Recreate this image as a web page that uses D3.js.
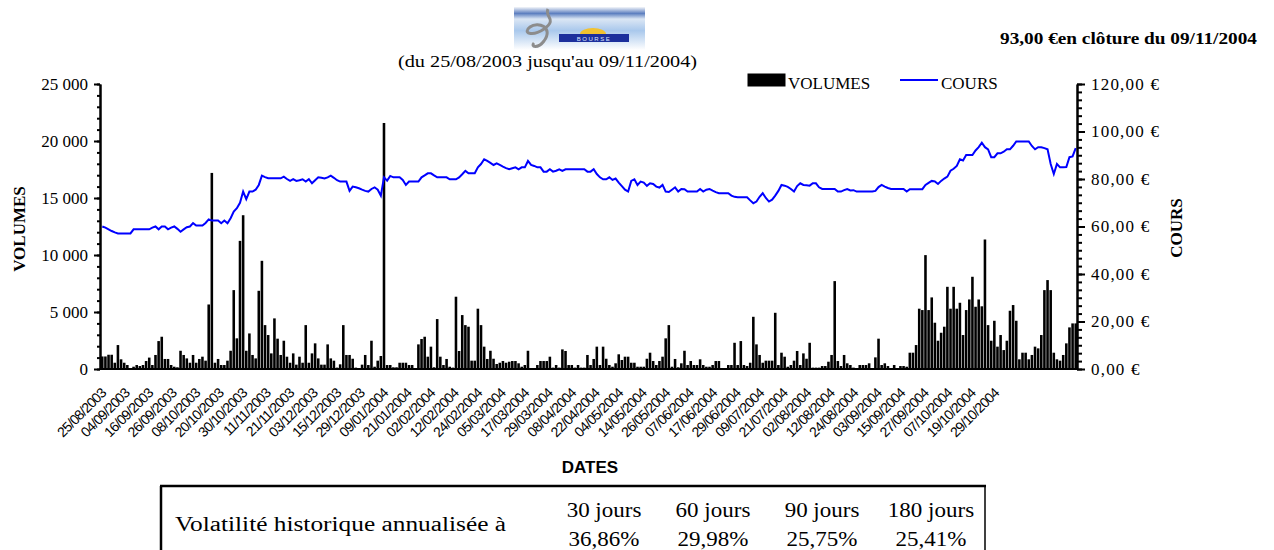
<!DOCTYPE html>
<html>
<head>
<meta charset="utf-8">
<script src="https://cdn.jsdelivr.net/npm/d3@7/dist/d3.min.js"></script>
<style>
	body { margin: 0; background: #fff; }
	svg { display: block; }
	text { font-family: "Liberation Serif", "Times New Roman", serif; fill: #000; }
</style>
</head>
<body>
<div id="chart"></div>
<script>
// volumes traded per session, 25/08/2003 -> 09/11/2004 (312 sessions)
var volumes = [
	1100,1100,1250,1250,550,2100,850,550,350,60,
	200,350,260,350,700,1000,350,1230,2450,2830,
	880,880,350,200,150,1600,1230,930,550,1230,
	550,880,1080,730,5660,17200,550,880,350,350,
	730,1600,6920,2690,11240,13490,1600,3120,1230,930,
	6860,9490,3850,2980,1370,4440,2660,1230,2480,1080,
	550,1370,380,1080,550,3850,550,1370,2250,930,
	380,380,2160,930,730,120,410,3850,1230,1230,
	900,120,60,380,1230,350,2480,200,730,1140,
	21580,350,350,150,150,550,550,550,350,350,
	60,2160,2630,2830,1080,1960,150,4380,1080,350,
	880,200,120,6340,1580,4730,3850,3710,730,730,
	5290,3850,1960,880,1600,900,440,550,700,550,
	640,700,700,500,200,350,1600,60,60,350,
	700,700,700,1080,120,350,120,1720,1580,350,
	350,120,350,120,120,1230,350,880,1960,350,
	1960,900,350,200,500,1290,790,1080,1080,550,
	550,200,200,200,900,1430,700,350,700,1080,
	2690,3850,200,880,150,500,1600,350,700,350,
	350,850,350,200,200,350,700,700,60,30,
	350,350,2300,350,2450,350,260,550,4580,2160,
	1230,550,730,730,730,4930,350,1430,1080,200,
	350,730,1580,350,1370,900,2300,120,120,120,
	260,260,640,1230,7710,700,260,1230,500,350,
	120,60,350,350,350,500,60,1020,2660,350,
	500,260,60,350,60,260,260,200,1430,1430,
	2100,5290,5170,9990,5170,6280,4060,2480,3180,3710,
	7210,5290,7210,5290,5810,2980,5170,6100,8090,5460,
	6100,5500,11360,3850,2480,4230,1960,2980,1660,2480,
	5110,5610,4230,850,1430,1430,850,1230,1960,1810,
	2980,6920,7800,6920,1430,850,730,1230,2250,3650,
	4000,4000
];

// closing price per session, in euros
var prices = [
	60.0,59.5,58.8,58.1,57.5,57.1,57.1,57.1,57.1,57.1,
	58.8,58.8,58.8,58.8,58.8,58.8,59.5,60.0,58.8,60.0,
	60.0,58.8,59.5,60.0,59.0,57.8,58.8,59.7,60.0,61.4,
	60.4,60.4,60.4,61.5,63.0,62.5,62.5,62.5,61.4,62.5,
	61.4,63.5,66.3,67.7,70.0,74.7,71.5,74.7,74.7,75.5,
	77.5,81.4,80.8,80.3,80.3,80.3,80.3,80.3,81.0,80.0,
	79.2,79.9,79.2,79.5,79.9,78.9,79.9,78.2,79.5,80.7,
	80.5,80.2,80.7,81.4,80.5,79.5,78.9,78.9,78.9,75.0,
	76.8,76.5,76.1,75.5,75.0,74.7,75.8,76.5,75.5,73.0,
	80.7,79.3,81.3,80.7,80.7,80.7,79.6,77.5,78.9,78.9,
	78.9,78.9,80.7,81.5,82.4,82.4,81.5,80.7,80.7,80.7,
	80.7,79.9,79.9,79.9,80.7,82.0,83.4,82.4,82.4,82.4,
	84.9,86.3,88.3,87.6,86.8,85.9,86.6,85.9,85.2,84.6,
	84.1,84.5,84.9,84.1,84.9,84.9,87.6,85.9,85.5,84.9,
	84.9,83.1,83.1,84.1,83.1,83.5,84.1,83.4,84.1,84.1,
	84.1,84.1,84.1,84.1,84.1,83.1,83.1,84.1,82.1,80.7,
	79.9,79.9,80.7,79.6,80.2,78.5,77.0,75.5,74.7,79.2,
	79.9,77.5,78.9,78.5,77.1,78.2,77.9,76.8,76.4,77.5,
	74.7,74.5,75.5,76.5,74.7,75.8,75.7,74.7,74.7,74.7,
	74.7,75.8,74.7,75.5,75.8,75.1,74.5,74.0,74.0,74.0,
	74.0,73.0,72.5,72.3,72.3,72.3,72.3,71.0,69.8,70.5,
	72.5,74.0,72.0,70.5,71.3,73.0,75.0,77.5,77.2,76.7,
	75.8,74.7,77.0,78.2,77.5,77.4,77.2,78.2,78.2,76.5,
	75.8,75.8,75.8,75.8,75.8,74.7,74.7,75.3,75.8,75.2,
	75.3,74.7,74.7,74.7,74.7,74.7,74.7,75.0,76.6,77.5,
	76.8,76.2,75.8,75.8,75.8,75.8,75.8,74.7,75.7,75.7,
	75.7,75.7,75.7,77.5,78.4,79.2,79.0,77.9,79.2,80.2,
	81.0,83.5,84.3,85.5,88.3,87.8,90.1,90.1,90.1,92.0,
	93.4,95.3,93.4,92.5,89.2,89.2,90.8,90.8,91.5,92.5,
	92.5,94.0,95.8,95.8,95.8,95.8,95.8,93.9,92.5,93.4,
	93.4,93.0,92.5,86.3,82.1,86.3,84.9,84.9,85.0,89.2,
	89.5,93.0
];

// date labels along the bottom axis
var dateLabels = [
	"25/08/2003","04/09/2003","16/09/2003","26/09/2003","08/10/2003","20/10/2003",
	"30/10/2003","11/11/2003","21/11/2003","03/12/2003","15/12/2003","29/12/2003",
	"09/01/2004","21/01/2004","02/02/2004","12/02/2004","24/02/2004","05/03/2004",
	"17/03/2004","29/03/2004","08/04/2004","22/04/2004","04/05/2004","14/05/2004",
	"26/05/2004","07/06/2004","17/06/2004","29/06/2004","09/07/2004","21/07/2004",
	"02/08/2004","12/08/2004","24/08/2004","03/09/2004","15/09/2004","27/09/2004",
	"07/10/2004","19/10/2004","29/10/2004"
];

var volPeriods = ["30 jours", "60 jours", "90 jours", "180 jours"];
var volValues = ["36,86%", "29,98%", "25,75%", "25,41%"];

(function () {
	var width = 1274, height = 550;
	var pLeft = 100, pRight = 1077, pTop = 84, pBottom = 369;

	var fr = d3.formatLocale({ decimal: ",", thousands: "\u00a0", grouping: [3], currency: ["", "\u00a0€"] });
	var fmtVol = fr.format(",d");
	var fmtEur = fr.format("$,.2f");

	var svg = d3.select("#chart").append("svg")
		.attr("width", width)
		.attr("height", height);

	var idx = d3.range(volumes.length);
	var x = d3.scaleBand().domain(idx).range([pLeft + 1, pRight]).paddingInner(0.18);
	var yVol = d3.scaleLinear().domain([0, 25000]).range([pBottom, pTop]);
	var yEur = d3.scaleLinear().domain([0, 120]).range([pBottom, pTop]);
	// the labels of the source run on a slightly tighter pitch than the bars
	var xLab = d3.scalePoint().domain(dateLabels).range([107, 1000]);

	// logo
	var defs = svg.append("defs");
	var g1 = defs.append("linearGradient").attr("id", "sky").attr("x1", 0).attr("y1", 0).attr("x2", 0).attr("y2", 1);
	g1.append("stop").attr("offset", "0").attr("stop-color", "#f4f6fa");
	g1.append("stop").attr("offset", "0.15").attr("stop-color", "#5d7fc0");
	g1.append("stop").attr("offset", "0.28").attr("stop-color", "#dbe6f4");
	g1.append("stop").attr("offset", "0.55").attr("stop-color", "#a9c8ec");
	g1.append("stop").attr("offset", "1").attr("stop-color", "#ffffff");
	var logo = svg.append("g").attr("transform", "translate(514,7)");
	logo.append("rect").attr("width", 131).attr("height", 43).attr("fill", "url(#sky)");
	logo.append("path")
		.attr("d", "M34,2 C30,10 44,12 30,22 C18,30 8,26 16,20 C24,14 40,20 30,34 C24,42 16,40 20,36")
		.attr("fill", "none").attr("stroke", "#8c8c8c").attr("stroke-width", 3);
	logo.append("path").attr("d", "M66,27 A13,6 0 0 1 92,27 Z").attr("fill", "#f2c230");
	logo.append("rect").attr("x", 45).attr("y", 27).attr("width", 70).attr("height", 8).attr("fill", "#1c2f9c");
	logo.append("text").attr("x", 80).attr("y", 33.5).attr("text-anchor", "middle")
		.style("font-family", "Liberation Sans, Arial, sans-serif").style("font-size", "6px")
		.style("letter-spacing", "1.5px").style("fill", "#dfe6ff").text("BOURSE");

	svg.append("text")
		.attr("x", 398).attr("y", 67)
		.attr("textLength", 299).attr("lengthAdjust", "spacingAndGlyphs")
		.style("font-size", "16px")
		.text("(du 25/08/2003 jusqu'au 09/11/2004)");

	svg.append("text")
		.attr("x", 1000).attr("y", 44)
		.attr("textLength", 257).attr("lengthAdjust", "spacingAndGlyphs")
		.style("font-size", "16px").style("font-weight", "bold")
		.text("93,00 €en clôture du 09/11/2004");

	// bars
	svg.append("g").selectAll("rect")
		.data(volumes)
		.enter()
		.append("rect")
		.attr("x", function (d, i) { return x(i); })
		.attr("y", function (d) { return yVol(d); })
		.attr("width", x.bandwidth())
		.attr("height", function (d) { return pBottom - yVol(d); })
		.attr("fill", "#000");

	// price line
	var line = d3.line()
		.x(function (d, i) { return x(i) + x.bandwidth() / 2; })
		.y(function (d) { return yEur(d); });
	svg.append("path")
		.datum(prices)
		.attr("d", line)
		.attr("fill", "none")
		.attr("stroke", "#0000ff")
		.attr("stroke-width", 2);

	// axes
	function styleAxis(g) {
		g.select(".domain").attr("stroke", "#000").attr("stroke-width", 2);
		g.selectAll(".tick line").attr("stroke", "#000").attr("stroke-width", 2);
		g.selectAll(".tick text").style("font-family", "Liberation Serif, serif").style("font-size", "17px").attr("fill", "#000");
	}

	svg.append("g").attr("transform", "translate(" + pLeft + ",0)")
		.call(d3.axisLeft(yVol).tickValues(d3.range(0, 25001, 1000)).tickSize(3).tickSizeOuter(0).tickFormat(""))
		.call(styleAxis);
	svg.append("g").attr("transform", "translate(" + pLeft + ",0)")
		.call(d3.axisLeft(yVol).tickValues(d3.range(0, 25001, 5000)).tickSize(6).tickSizeOuter(0).tickPadding(6).tickFormat(fmtVol))
		.call(styleAxis);

	svg.append("g").attr("transform", "translate(" + pRight + ",0)")
		.call(d3.axisRight(yEur).tickValues(d3.range(0, 120.01, 20 / 6)).tickSize(5).tickSizeOuter(0).tickFormat(""))
		.call(styleAxis);
	svg.append("g").attr("transform", "translate(" + pRight + ",0)")
		.call(d3.axisRight(yEur).tickValues(d3.range(0, 121, 20)).tickSize(8).tickSizeOuter(0).tickPadding(6).tickFormat(fmtEur))
		.call(styleAxis)
		.selectAll(".tick text").style("letter-spacing", "1.2px");

	svg.append("line")
		.attr("x1", pLeft).attr("x2", pRight).attr("y1", pBottom).attr("y2", pBottom)
		.attr("stroke", "#000").attr("stroke-width", 2);

	// date labels
	svg.append("g").selectAll("text")
		.data(dateLabels)
		.enter()
		.append("text")
		.attr("transform", function (d) {
			return "translate(" + xLab(d) + ",394) rotate(-45)";
		})
		.attr("text-anchor", "end")
		.style("font-family", "Liberation Sans, Arial, sans-serif")
		.style("font-size", "14px")
		.style("letter-spacing", "-0.8px")
		.text(function (d) { return d; });

	svg.append("text")
		.attr("x", 590).attr("y", 473).attr("text-anchor", "middle")
		.style("font-family", "Liberation Sans, Arial, sans-serif")
		.style("font-size", "17px").style("font-weight", "bold")
		.text("DATES");

	svg.append("text")
		.attr("transform", "translate(25,229) rotate(-90)")
		.attr("text-anchor", "middle")
		.style("font-size", "17px").style("font-weight", "bold")
		.text("VOLUMES");

	svg.append("text")
		.attr("transform", "translate(1182,228) rotate(-90)")
		.attr("text-anchor", "middle")
		.style("font-size", "17px").style("font-weight", "bold")
		.text("COURS");

	// legend
	var legend = svg.append("g");
	legend.append("rect").attr("x", 748).attr("y", 74).attr("width", 37).attr("height", 12)
		.attr("fill", "#000").attr("stroke", "#000");
	legend.append("text").attr("x", 788).attr("y", 89).style("font-size", "17px").text("VOLUMES");
	legend.append("line").attr("x1", 900).attr("x2", 938).attr("y1", 80).attr("y2", 80)
		.attr("stroke", "#0000ff").attr("stroke-width", 2);
	legend.append("text").attr("x", 941).attr("y", 89).style("font-size", "17px").text("COURS");

	// volatility table
	var tbl = svg.append("g");
	tbl.append("line").attr("x1", 160).attr("x2", 986).attr("y1", 486).attr("y2", 486)
		.attr("stroke", "#000").attr("stroke-width", 2.5);
	tbl.append("line").attr("x1", 161).attr("x2", 161).attr("y1", 486).attr("y2", 550)
		.attr("stroke", "#000").attr("stroke-width", 2.5);
	tbl.append("line").attr("x1", 985).attr("x2", 985).attr("y1", 486).attr("y2", 550)
		.attr("stroke", "#000").attr("stroke-width", 1.5);
	tbl.append("text").attr("x", 175).attr("y", 531)
		.attr("textLength", 331).attr("lengthAdjust", "spacingAndGlyphs")
		.style("font-size", "20px")
		.text("Volatilité historique annualisée à");

	var colX = d3.scalePoint().domain(volPeriods).range([604, 931]);
	tbl.selectAll("text.per")
		.data(volPeriods)
		.enter()
		.append("text")
		.attr("class", "per")
		.attr("x", function (d) { return colX(d); })
		.attr("y", 517)
		.attr("text-anchor", "middle")
		.style("font-size", "20px")
		.attr("transform", function (d) { var c = colX(d); return "translate(" + c + ",0) scale(1.15,1) translate(" + (-c) + ",0)"; })
		.text(function (d) { return d; });
	tbl.selectAll("text.val")
		.data(volValues)
		.enter()
		.append("text")
		.attr("class", "val")
		.attr("x", function (d, i) { return colX(volPeriods[i]); })
		.attr("y", 546)
		.attr("text-anchor", "middle")
		.style("font-size", "20px")
		.attr("transform", function (d, i) { var c = colX(volPeriods[i]); return "translate(" + c + ",0) scale(1.15,1) translate(" + (-c) + ",0)"; })
		.text(function (d) { return d; });
})();
</script>
</body>
</html>
